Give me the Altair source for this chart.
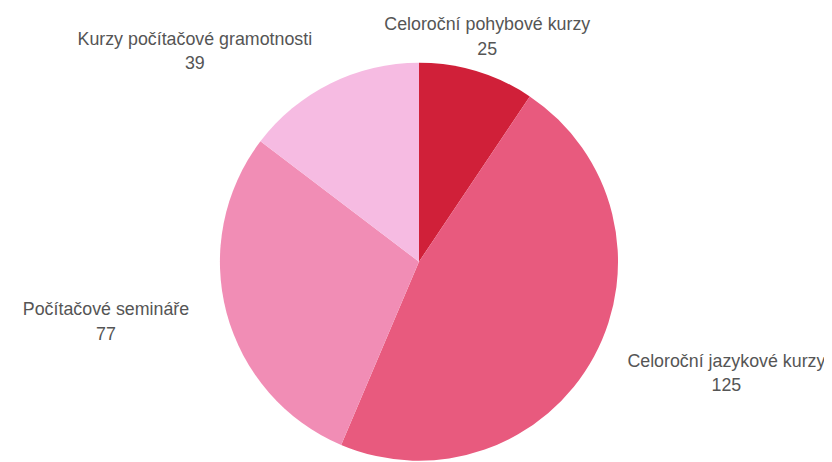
import altair as alt
import pandas as pd

categories = ["Celoroční pohybové kurzy", "Celoroční jazykové kurzy", "Počítačové semináře", "Kurzy počítačové gramotnosti"]
values = [25, 125, 77, 39]
colors = ["#d02039", "#e85a7e", "#f18db5", "#f6bbe2"]

df = pd.DataFrame({"cat": categories, "val": values, "idx": list(range(len(values)))})

CX, CY = 415, 254
R = 201
RL = 237

base = (
    alt.Chart(df)
    .transform_window(cum="sum(val)", sort=[{"field": "idx"}], frame=[None, 0])
    .transform_joinaggregate(total="sum(val)")
    .transform_calculate(
        start="(datum.cum - datum.val) / datum.total * 2 * PI",
        end="datum.cum / datum.total * 2 * PI",
        mid="(datum.cum - datum.val / 2) / datum.total * 2 * PI",
    )
)

pie = base.mark_arc(radius=R, strokeWidth=0).encode(
    theta=alt.Theta("start:Q", scale=None),
    theta2="end:Q",
    color=alt.Color("cat:N", scale=alt.Scale(domain=categories, range=colors), legend=None),
    x=alt.value(CX),
    y=alt.value(CY),
)

def labels(name, dx):
    b = base.transform_filter(alt.FieldEqualPredicate(field="cat", equal=name))
    kw = dict(radius=RL, align="center", font="Liberation Sans", fontSize=18, color="#555555", dx=dx)
    t1 = b.mark_text(dy=-12, **kw).encode(
        theta=alt.Theta("mid:Q", scale=None), text="cat:N", x=alt.value(CX), y=alt.value(CY)
    )
    t2 = b.mark_text(dy=13, **kw).encode(
        theta=alt.Theta("mid:Q", scale=None), text="val:Q", x=alt.value(CX), y=alt.value(CY)
    )
    return [t1, t2]

layers = [pie]
layers += labels(categories[0], 0)
layers += labels(categories[1], 102)
layers += labels(categories[2], -87)
layers += labels(categories[3], -121)

chart = alt.layer(*layers).properties(
    width=824, height=454, padding=0, autosize=alt.AutoSizeParams(type="none")
).configure_view(stroke=None)

chart.save("out.html", embed_options={"renderer": "svg", "actions": False})
